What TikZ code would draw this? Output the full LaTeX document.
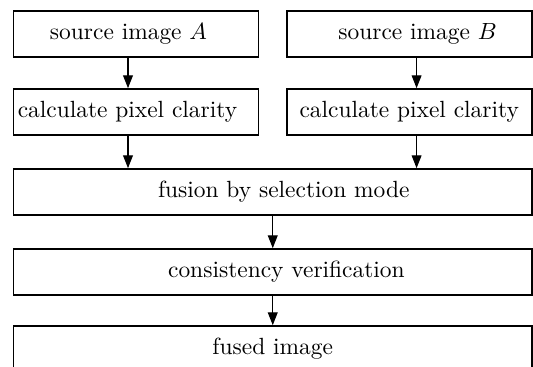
\documentclass[tikz,border=0pt]{standalone}
\usepackage{amsmath,amssymb}
\usepackage{tikz}
\usetikzlibrary{arrows.meta,positioning}

\begin{document}
\begin{tikzpicture}[
  x=0.015cm, y=-0.015cm,
  box/.style={draw, line width=0.7pt, minimum height=0.69cm, inner sep=0},
  halfbox/.style={box, minimum width=3.675cm},
  widebox/.style={box, minimum width=7.78cm},
  padl/.style={execute at begin node={\hspace*{#1}}},
  padr/.style={execute at end node={\hspace*{#1}}},
  flow/.style={->, line width=0.5pt},
  >={Triangle[length=5.5pt, width=4.2pt]}
]
\clip (0,0) rectangle (533,366);
% two source branches
\node[halfbox, padr=0.225cm] (srcA) at (136, 34) {source image $A$};
\node[halfbox, padl=0.25cm] (srcB) at (409.25, 34) {source image $B$};
\node[halfbox, padr=0.255cm] (clarA) at (136, 112) {calculate pixel clarity};
\node[halfbox] (clarB) at (409.25, 112) {calculate pixel clarity};

% merged chain
\node[widebox, padl=0.33cm] (fusion) at (272.75, 192) {fusion by selection mode};
\node[widebox, padl=0.41cm] (verify) at (272.75, 272) {consistency verification};
\node[widebox] (fused) at (272.75, 349) {fused image};

% arrows
\draw[flow] ([xshift=-0.12cm]srcA.south) -- ([xshift=-0.12cm]clarA.north);
\draw[flow] ([xshift=0.11cm]srcB.south) -- ([xshift=0.11cm]clarB.north);
\draw[flow] ([xshift=-0.12cm]clarA.south) -- ([xshift=-0.12cm]clarA.south |- fusion.north);
\draw[flow] ([xshift=0.11cm]clarB.south) -- ([xshift=0.11cm]clarB.south |- fusion.north);
\draw[flow] (fusion.south) -- (verify.north);
\draw[flow] (verify.south) -- (fused.north);
\end{tikzpicture}
\end{document}
